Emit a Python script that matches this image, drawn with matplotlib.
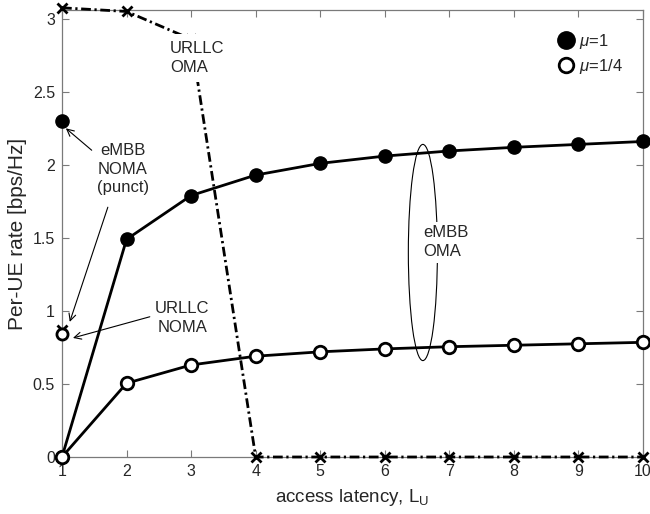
import matplotlib
matplotlib.use("Agg")
import matplotlib.pyplot as plt
from matplotlib.patches import Ellipse
from matplotlib.lines import Line2D

plt.rcParams['font.family'] = ['Liberation Sans', 'DejaVu Sans']
plt.rcParams['mathtext.fontset'] = 'custom'
plt.rcParams['mathtext.rm'] = 'Liberation Sans'
plt.rcParams['mathtext.it'] = 'Liberation Sans:italic'

# ---- data ----
latency = [1, 2, 3, 4, 5, 6, 7, 8, 9, 10]
embb_oma_mu1 = [0, 1.49, 1.79, 1.93, 2.01, 2.06, 2.095, 2.12, 2.14, 2.16]
embb_oma_mu14 = [0, 0.505, 0.63, 0.69, 0.72, 0.74, 0.755, 0.765, 0.775, 0.785]
urllc_oma = [3.075, 3.05, 2.86, 0, 0, 0, 0, 0, 0, 0]
noma_x = [1]
embb_noma_mu1 = [2.30]
embb_noma_mu14 = [0.84]
urllc_noma = [0.87]
xticks = [1, 2, 3, 4, 5, 6, 7, 8, 9, 10]
yticks = [0, 0.5, 1, 1.5, 2, 2.5, 3]
ytick_labels = ['0', '0.5', '1', '1.5', '2', '2.5', '3']

txt = '#262626'
spine = '#7a7a7a'
fs_tick = 11.5
fs_ann = 12

fig = plt.figure(figsize=(6.5, 5.14), dpi=100)
ax = fig.add_axes([62/650, 57/514, 581/650, 447/514])

ax.plot(latency, urllc_oma, color='black', lw=2, linestyle=(0, (3.5, 1.3, 0.8, 1.3)),
        marker='x', markersize=7, mew=2, clip_on=False, zorder=3)
ax.plot(latency, embb_oma_mu1, color='black', lw=2, marker='o', markersize=9.5,
        markerfacecolor='black', markeredgecolor='black', clip_on=False, zorder=4)
ax.plot(latency, embb_oma_mu14, color='black', lw=2, marker='o', markersize=9,
        markerfacecolor='white', markeredgecolor='black', mew=2, clip_on=False, zorder=5)
ax.plot(noma_x, embb_noma_mu1, linestyle='none', marker='o', markersize=9.5,
        markerfacecolor='black', markeredgecolor='black', clip_on=False, zorder=5)
ax.plot(noma_x, urllc_noma, linestyle='none', marker='x', markersize=7, mew=2,
        color='black', clip_on=False, zorder=5)
ax.plot(noma_x, embb_noma_mu14, linestyle='none', marker='o', markersize=8,
        markerfacecolor='white', markeredgecolor='black', mew=2, clip_on=False, zorder=6)

ax.set_xlim(1, 10)
ax.set_ylim(0, 3.06)
ax.set_xticks(xticks)
ax.set_yticks(yticks)
ax.set_yticklabels(ytick_labels)
ax.tick_params(direction='in', length=5, width=0.8, color=spine, labelcolor=txt,
               labelsize=fs_tick, top=True, right=True, pad=5)
for s in ax.spines.values():
    s.set_color(spine)
    s.set_linewidth(0.9)

ax.set_xlabel('access latency, L$_\\mathrm{U}$', fontsize=13.5, color=txt, labelpad=6)
ax.set_ylabel('Per-UE rate [bps/Hz]', fontsize=15, color=txt, labelpad=4)

# ellipse around eMBB OMA
ell = Ellipse((6.59, 1.40), 0.45, 1.48, fill=False, edgecolor='black', lw=0.8, zorder=2)
ax.add_patch(ell)

ax.text(6.59, 1.47, 'eMBB\nOMA', fontsize=fs_ann, color=txt, ha='left', va='center',
        linespacing=1.3, zorder=7,
        bbox=dict(facecolor='white', edgecolor='none', pad=2.5))
ax.text(2.67, 2.73, 'URLLC\nOMA', fontsize=fs_ann, color=txt, ha='left', va='center',
        linespacing=1.3, zorder=7,
        bbox=dict(facecolor='white', edgecolor='none', pad=5))
ax.text(1.945, 1.97, 'eMBB\nNOMA\n(punct)', fontsize=fs_ann, color=txt, ha='center',
        va='center', multialignment='center', linespacing=1.3, zorder=7)
ax.text(2.86, 0.95, 'URLLC\nNOMA', fontsize=fs_ann, color=txt, ha='center',
        va='center', multialignment='center', linespacing=1.3, zorder=7)

aprops = dict(arrowstyle='->,head_length=0.5,head_width=0.25', color='black', lw=0.8,
              shrinkA=0, shrinkB=0)
ax.annotate('', xy=(1.06, 2.25), xytext=(1.46, 2.10), arrowprops=aprops, annotation_clip=False)
ax.annotate('', xy=(1.12, 0.925), xytext=(1.71, 1.71), arrowprops=aprops, annotation_clip=False)
ax.annotate('', xy=(1.17, 0.815), xytext=(2.36, 0.96), arrowprops=aprops, annotation_clip=False)

handles = [
    Line2D([], [], linestyle='none', marker='o', markersize=12.5, markerfacecolor='black',
           markeredgecolor='black'),
    Line2D([], [], linestyle='none', marker='o', markersize=10.5, markerfacecolor='white',
           markeredgecolor='black', mew=2),
]
ax.legend(handles, ['$\\mu$=1', '$\\mu$=1/4'], loc='upper left',
          bbox_to_anchor=(0.83, 0.98), frameon=False, fontsize=fs_ann,
          handlelength=1.0, handletextpad=0.3, labelspacing=0.35, labelcolor=txt,
          borderpad=0.3)

fig.savefig('out.png', dpi=100)
